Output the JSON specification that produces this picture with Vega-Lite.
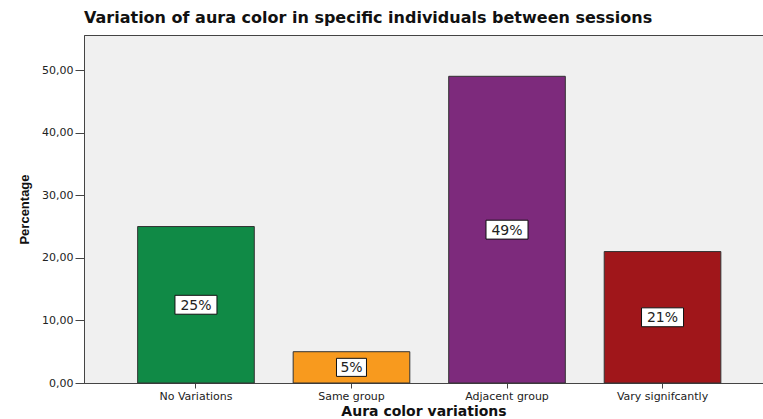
{
  "$schema": "https://vega.github.io/schema/vega-lite/v6.json",
  "width": 679,
  "height": 348,
  "autosize": {"type": "none"},
  "padding": {"left": 84, "top": 35, "right": 0, "bottom": 36},
  "background": "white",
  "config": {
    "view": {"fill": "#f0f0f0", "stroke": "#444444", "strokeWidth": 1},
    "axis": {"grid": false, "domainColor": "#444444", "tickColor": "#444444"}
  },
  "title": {
    "text": "Variation of aura color in specific individuals between sessions",
    "anchor": "start",
    "frame": "group",
    "font": "DejaVu Sans",
    "fontSize": 16,
    "fontWeight": "bold",
    "color": "#111111",
    "offset": 9
  },
  "data": {
    "values": [
      {"category": "No Variations", "value": 25, "label": "25%"},
      {"category": "Same group", "value": 5, "label": "5%"},
      {"category": "Adjacent group", "value": 49, "label": "49%"},
      {"category": "Vary signifcantly", "value": 21, "label": "21%"}
    ]
  },
  "encoding": {
    "x": {
      "field": "category",
      "type": "nominal",
      "sort": null,
      "scale": {"paddingInner": 0.25, "paddingOuter": 0.308, "align": 0.56},
      "axis": {
        "title": "Aura color variations",
        "labelAngle": 0,
        "labelFont": "DejaVu Sans",
        "labelFontSize": 11,
        "labelColor": "#222222",
        "labelPadding": 2,
        "tickSize": 5,
        "titleFont": "DejaVu Sans",
        "titleFontSize": 14,
        "titleFontWeight": "bold",
        "titleColor": "#111111",
        "titlePadding": 3
      }
    }
  },
  "layer": [
    {
      "mark": {"type": "bar", "stroke": "#333333", "strokeWidth": 1},
      "encoding": {
        "y": {
          "field": "value",
          "type": "quantitative",
          "scale": {"domain": [0, 55.6], "nice": false},
          "axis": {
            "title": "Percentage",
            "values": [0, 10, 20, 30, 40, 50],
            "labelExpr": "replace(format(datum.value, '.2f'), '.', ',')",
            "labelFont": "DejaVu Sans",
            "labelFontSize": 11,
            "labelColor": "#222222",
            "labelPadding": 2,
            "tickSize": 9,
            "titleFont": "Liberation Sans",
            "titleFontSize": 13,
            "titleFontWeight": "bold",
            "titleColor": "#111111",
            "titlePadding": 10
          }
        },
        "color": {
          "field": "category",
          "type": "nominal",
          "scale": {
            "domain": ["No Variations", "Same group", "Adjacent group", "Vary signifcantly"],
            "range": ["#108a46", "#f89a1e", "#7d2a7c", "#a0161a"]
          },
          "legend": null
        }
      }
    },
    {
      "encoding": {
        "y": {
          "field": "value",
          "type": "quantitative",
          "scale": {"domain": [0, 111.2], "nice": false},
          "axis": null
        }
      },
      "layer": [
        {
          "mark": {"type": "point", "filled": false, "fill": "white", "fillOpacity": 1, "stroke": "#111111", "strokeWidth": 1, "opacity": 1, "size": 1764},
          "encoding": {
            "shape": {
              "condition": {"test": "length(datum.label) > 2", "value": "M-1,-0.45L1,-0.45L1,0.45L-1,0.45Z"},
              "value": "M-0.714,-0.43L0.714,-0.43L0.714,0.43L-0.714,0.43Z"
            }
          }
        },
        {
          "mark": {"type": "text", "font": "DejaVu Sans", "fontSize": 14, "color": "#222222", "baseline": "middle", "dy": 1},
          "encoding": {"text": {"field": "label"}}
        }
      ]
    }
  ],
  "resolve": {"scale": {"y": "independent", "color": "independent"}}
}
